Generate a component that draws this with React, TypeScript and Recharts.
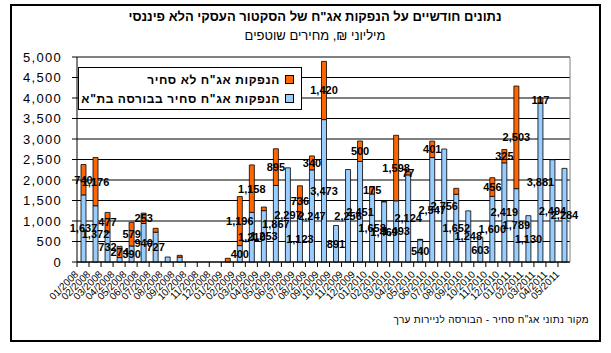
import React from 'react';
import { BarChart, Bar, XAxis, YAxis, CartesianGrid, Legend, LabelList, ReferenceLine } from 'recharts';

const months = [
  '01/2008','02/2008','03/2008','04/2008','05/2008','06/2008','07/2008','08/2008','09/2008','10/2008','11/2008','12/2008',
  '01/2009','02/2009','03/2009','04/2009','05/2009','06/2009','07/2009','08/2009','09/2009','10/2009','11/2009','12/2009',
  '01/2010','02/2010','03/2010','04/2010','05/2010','06/2010','07/2010','08/2010','09/2010','10/2010','11/2010','12/2010',
  '01/2011','02/2011','03/2011','04/2011','05/2011',
];

// traded bonds on TASE (light blue)
const tradedValues: (number | null)[] = [
  1637, 1372, 732, 108, 390, 940, 727, 122, 118, null, null, null,
  null, 400, 1210, 1253, 1867, 2297, 1123, 2247, 3473, 891, 2256, 2451,
  1658, 1469, 1493, 2124, 540, 2547, 2756, 1652, 1248, 603, 1600, 2419,
  1789, 1130, 3881, 2494, 2284,
];

// non-traded bonds (orange)
const nonTradedValues: (number | null)[] = [
  740, 1176, 477, 274, 579, 253, 95, null, 45, null, null, null,
  90, 1196, 1158, 88, 895, null, 736, 340, 1420, null, null, 500,
  175, 20, 1598, 77, 13, 401, null, 145, null, null, 456, 325,
  2503, 0, 117, null, null,
];

// months whose data label is not shown in the original
const tradedNoLabel = [3, 7, 8];
const nonTradedNoLabel = [6, 8, 12, 15, 25, 28, 31];

const yTicks = [0, 500, 1000, 1500, 2000, 2500, 3000, 3500, 4000, 4500, 5000];

const seriesNames = {
  traded: 'הנפקות אג"ח סחיר בבורסה בת"א',
  nonTraded: 'הנפקות אג"ח לא סחיר',
};

const title = 'נתונים חודשיים על הנפקות אג"ח של הסקטור העסקי הלא פיננסי';
const subtitle = 'מיליוני ₪, מחירים שוטפים';
const source = 'מקור נתוני אג"ח סחיר - הבורסה לניירות ערך';

const data = months.map((m, i) => ({
  month: m,
  traded: tradedValues[i],
  nonTraded: nonTradedValues[i],
  tradedLabel: tradedNoLabel.includes(i) ? null : tradedValues[i],
  nonTradedLabel: nonTradedNoLabel.includes(i) ? null : nonTradedValues[i],
}));

const FONT = 'Arial, "Liberation Sans", sans-serif';
const fmt = (v: number) => v.toLocaleString('en-US');

const renderLabel = (props: any) => {
  const { value } = props;
  if (value == null || value === '') return null;
  const vb = props.viewBox || {};
  const x = props.x ?? vb.x;
  const y = props.y ?? vb.y;
  const w = props.width ?? vb.width ?? 0;
  const h = props.height ?? vb.height ?? 0;
  return (
    <text
      x={x + w / 2}
      y={y + h / 2}
      textAnchor="middle"
      dominantBaseline="central"
      fontFamily={FONT}
      fontSize={11}
      fontWeight="bold"
      fill="#000"
    >
      {fmt(Number(value))}
    </text>
  );
};

const XTick = (props: any) => {
  const { x, y, payload } = props;
  const half = payload && payload.offset ? payload.offset : 6;
  return (
    <g>
      <line x1={x - half} y1={y} x2={x - half} y2={y + 5} stroke="#000" />
      <text
        transform={`translate(${x - 4},${y + 13}) rotate(-45)`}
        textAnchor="end"
        fontFamily={FONT}
        fontSize={10}
        fill="#000"
      >
        {payload.value}
      </text>
    </g>
  );
};

const LegendBox = (props: any) => {
  const items = [...(props.payload || [])];
  const order = [seriesNames.nonTraded, seriesNames.traded];
  items.sort((a: any, b: any) => order.indexOf(a.value) - order.indexOf(b.value));
  return (
    <div
      style={{
        width: 222,
        height: 39,
        border: '1px solid #000',
        background: '#fff',
        boxSizing: 'content-box',
        direction: 'rtl',
        fontFamily: FONT,
        fontWeight: 'bold',
        fontSize: 12,
        paddingTop: 2,
      }}
    >
      {items.map((p: any) => (
        <div key={p.value} style={{ display: 'flex', alignItems: 'center', height: 19, paddingRight: 7 }}>
          <span
            style={{
              display: 'inline-block',
              width: 7,
              height: 7,
              background: p.color,
              border: '1px solid #000',
              marginLeft: 5,
            }}
          />
          <span style={{ letterSpacing: 0.6 }}>{p.value}</span>
        </div>
      ))}
    </div>
  );
};

export default function App() {
  return (
    <div style={{ position: 'absolute', left: 0, top: 0, width: 611, height: 353, background: '#fff' }}>
      <div
        style={{
          position: 'absolute',
          left: 10,
          top: 4,
          width: 587,
          height: 334,
          border: '2px solid #000',
          boxSizing: 'content-box',
        }}
      />
      <div
        style={{
          position: 'absolute',
          left: 0,
          width: 630,
          top: 9,
          textAlign: 'center',
          fontFamily: FONT,
          fontWeight: 'bold',
          fontSize: 13,
          direction: 'rtl',
        }}
      >
        {title}
      </div>
      <div
        style={{
          position: 'absolute',
          left: 0,
          width: 630,
          top: 28,
          textAlign: 'center',
          fontFamily: FONT,
          fontSize: 13,
          direction: 'rtl',
        }}
      >
        {subtitle}
      </div>
      <div
        style={{
          position: 'absolute',
          right: 22,
          top: 314,
          fontFamily: FONT,
          fontSize: 10,
          direction: 'rtl',
          letterSpacing: 0.3,
        }}
      >
        {source}
      </div>
      <div style={{ position: 'absolute', left: 0, top: 0 }}>
        <BarChart
          width={611}
          height={353}
          data={data}
          margin={{ top: 57, right: 0, left: 0, bottom: 0 }}
          barCategoryGap={0}
        >
          <CartesianGrid vertical={false} stroke="#000" />
          <XAxis
            dataKey="month"
            interval={0}
            height={91}
            tickLine={false}
            tickSize={0}
            tickMargin={0}
            axisLine={{ stroke: '#000' }}
            tick={<XTick />}
          />
          <YAxis
            domain={[0, 5000]}
            ticks={yTicks}
            width={77}
            tickFormatter={fmt}
            axisLine={{ stroke: '#000' }}
            tickLine={{ stroke: '#000' }}
            tickSize={5}
            tickMargin={10}
            tick={{ fill: '#000', fontSize: 13, fontFamily: FONT, letterSpacing: 1.3 }}
            interval={0}
          />
          <YAxis
            yAxisId="right"
            orientation="right"
            domain={[0, 5000]}
            width={41}
            tick={false}
            tickLine={false}
            axisLine={{ stroke: '#808080' }}
          />
          <ReferenceLine y={5000} stroke="#808080" />
          <Legend
            layout="vertical"
            align="center"
            verticalAlign="middle"
            wrapperStyle={{ left: 78, top: 67, width: 224, height: 41 }}
            content={<LegendBox />}
          />
          <Bar
            dataKey="traded"
            name={seriesNames.traded}
            stackId="a"
            fill="#99CCFF"
            stroke="#000"
            strokeWidth={0.8}
            barSize={5}
            isAnimationActive={false}
          >
            <LabelList dataKey="tradedLabel" content={renderLabel} />
          </Bar>
          <Bar
            dataKey="nonTraded"
            name={seriesNames.nonTraded}
            stackId="a"
            fill="#FF6600"
            stroke="#000"
            strokeWidth={0.8}
            barSize={5}
            isAnimationActive={false}
          >
            <LabelList dataKey="nonTradedLabel" content={renderLabel} />
          </Bar>
        </BarChart>
      </div>
    </div>
  );
}
